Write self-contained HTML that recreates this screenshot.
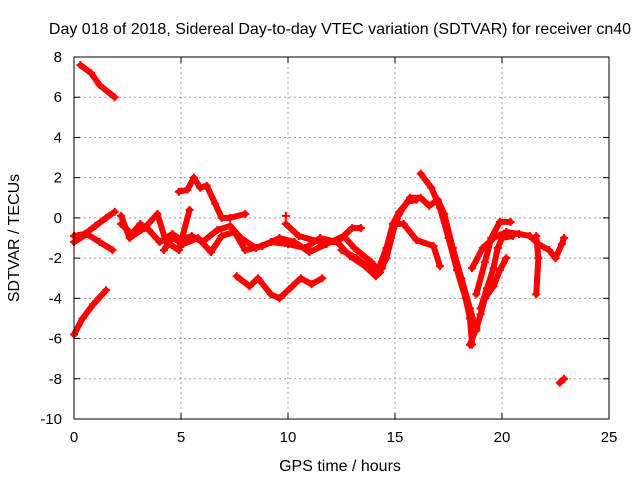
<!DOCTYPE html>
<html><head><meta charset="utf-8"><style>
body{margin:0;background:#fff}
svg text{font-family:"Liberation Sans",sans-serif;font-size:15px;fill:#000}
svg text.big{font-size:16px}
</style></head><body>
<svg id="chart" width="640" height="480">
<text class="big" x="340" y="34" text-anchor="middle">Day 018 of 2018, Sidereal Day-to-day VTEC variation (SDTVAR) for receiver cn40</text>
<text class="big" x="340" y="471" text-anchor="middle">GPS time / hours</text>
<text class="big" transform="translate(19,238) rotate(-90)" text-anchor="middle">SDTVAR / TECUs</text>
<g id="grid"></g><g id="marks"></g><g id="axes"></g>
</svg>
<script>
const xTicks=[0,5,10,15,20,25];
const yTicks=[8,6,4,2,0,-2,-4,-6,-8,-10];
const trackA=[[0.3,7.6],[0.8,7.2],[1.2,6.6],[1.9,6.0]];
const trackB=[[0,-5.8],[0.4,-5.0],[0.9,-4.3],[1.5,-3.6]];
const trackC=[[7.6,-2.9],[8.2,-3.4],[8.6,-3.0],[9.2,-3.8],[9.6,-4.0],[10.2,-3.4],[10.6,-3.0],[11.1,-3.3],[11.6,-3.0]];
const trackD=[[4.9,1.3],[5.3,1.4],[5.6,2.0],[5.9,1.5],[6.2,1.6],[6.6,0.7],[6.9,0],[7.3,0],[8.0,0.2]];
const trackE=[[0,-0.9],[0.5,-0.8],[1.0,-0.4],[1.5,0],[1.9,0.3]];
const trackF=[[0,-1.2],[0.6,-0.8],[1.2,-1.2],[1.8,-1.6]];
const trackG=[[2.2,-0.3],[2.7,-0.8],[3.1,-0.3],[3.5,-0.6],[4.0,-1.2],[4.6,-0.8],[5.0,-1.1],[5.5,-0.9],[6.0,-1.2],[6.7,-0.6],[7.3,-0.4],[7.8,-1.0],[8.5,-1.5],[9.2,-1.2],[10,-1.3],[10.8,-1.5],[11.5,-1.0],[12.3,-1.2],[13.0,-0.5],[13.4,-0.5]];
const trackH=[[2.2,0.1],[2.6,-1.0],[3.3,-0.5],[3.9,0.2],[4.3,-1.2],[4.9,-1.6],[5.4,0.4]];
const trackI=[[4.2,-1.6],[4.6,-1.0],[5.1,-1.3],[5.8,-1.0],[6.4,-1.7],[6.9,-0.9],[7.5,-0.7],[8.0,-1.6],[8.8,-1.4],[9.6,-1.0],[10.3,-1.2],[11.0,-1.7],[11.8,-1.3],[12.6,-0.9],[13.1,-1.5],[13.9,-2.2],[14.3,-2.7]];
const trackJ=[[9.9,-0.3],[10.5,-0.9],[11.5,-1.2],[12.3,-1.2],[12.9,-1.9],[13.6,-2.4],[14.1,-2.9],[14.6,-1.5],[14.9,-0.3],[15.2,0.3],[15.6,0.8],[16.0,0.9]];
const trackK=[[12.5,-1.6],[13.2,-2.0],[13.8,-2.5],[14.2,-2.8],[14.6,-2.0],[15.0,-0.3],[15.4,-0.3],[16.0,-1.1],[16.8,-1.4],[17.1,-2.4]];
const trackL=[[14.4,-2.5],[14.8,-1.0],[15.2,0.2],[15.7,1.0],[16.2,1.0],[16.6,0.6],[17.0,0.9],[17.3,0.2],[17.7,-1.5],[18.1,-3.0],[18.5,-4.5],[18.8,-5.6]];
const trackM=[[16.2,2.2],[16.7,1.5],[17.1,0.5],[17.5,-1.0],[17.9,-2.6],[18.3,-4.0],[18.5,-5.0],[18.6,-6.3]];
const trackN=[[18.5,-6.3],[18.8,-5.5],[19.0,-4.8],[19.2,-4.0],[19.6,-3.4],[19.9,-2.6],[20.2,-2.0]];
const trackO=[[18.8,-3.8],[19.2,-2.2],[19.5,-1.0],[19.9,-0.2],[20.4,-0.2]];
const trackP=[[18.6,-2.5],[19.1,-1.5],[19.6,-1.0],[20.2,-0.7],[20.8,-0.8],[21.3,-0.9],[21.7,-1.3],[22.2,-1.6],[22.5,-2.0],[22.8,-1.3],[22.9,-1.0]];
const trackQ=[[19.0,-4.5],[19.3,-3.5],[19.6,-2.5],[19.8,-1.5],[20.0,-1.0],[20.5,-0.9]];
const trackR=[[21.6,-0.9],[21.7,-2.0],[21.6,-3.8]];
const trackS=[[22.7,-8.2],[22.9,-8.0]];
const trackT=[[9.9,0.1]];
const tracks=[trackA,trackB,trackC,trackD,trackE,trackF,trackG,trackH,trackI,trackJ,trackK,trackL,trackM,trackN,trackO,trackP,trackQ,trackR,trackS,trackT];
const NS="http://www.w3.org/2000/svg";
const X0=74,X1=609,Y0=57,Y1=419;
function sx(v){return X0+(v-0)/25*(X1-X0);}
function sy(v){return Y0+(8-v)/18*(Y1-Y0);}
function mk(tag,attrs,parent){const e=document.createElementNS(NS,tag);for(const k in attrs)e.setAttribute(k,attrs[k]);parent.appendChild(e);return e;}
const grid=document.getElementById('grid'),axes=document.getElementById('axes'),marks=document.getElementById('marks');
xTicks.forEach(t=>{
  const x=sx(t);
  if(t>0&&t<25){const g=mk('line',{x1:x,x2:x,y1:Y0,y2:Y1,stroke:'#a0a0a0','stroke-dasharray':'2,3'},grid);
  
  }
  mk('line',{x1:x,x2:x,y1:Y1,y2:Y1-6,stroke:'#000'},axes);
  mk('line',{x1:x,x2:x,y1:Y0,y2:Y0+6,stroke:'#000'},axes);
  const l=mk('text',{x:x,y:Y1+23,'text-anchor':'middle'},axes);l.textContent=t;
  
  
});
yTicks.forEach(t=>{
  const y=sy(t);
  if(t>-10&&t<8){const g=mk('line',{x1:X0,x2:X1,y1:y,y2:y,stroke:'#a0a0a0','stroke-dasharray':'2,3'},grid);
  
  }
  mk('line',{x1:X0,x2:X0+6,y1:y,y2:y,stroke:'#000'},axes);
  mk('line',{x1:X1,x2:X1-6,y1:y,y2:y,stroke:'#000'},axes);
  const l=mk('text',{x:X0-12,y:y+5,'text-anchor':'end'},axes);l.textContent=t;
  
  
});
const frame=mk('rect',{x:X0,y:Y0,width:X1-X0,height:Y1-Y0,fill:'none',stroke:'#000','stroke-width':1},axes);


tracks.forEach(tr=>{
  if(tr.length>1){
    const p=mk('polyline',{points:tr.map(d=>sx(d[0])+','+sy(d[1])).join(' '),fill:'none',stroke:'#ff0000','stroke-width':6,'stroke-linejoin':'round','stroke-linecap':'round'},marks);
    
    
  }
  tr.forEach(d=>{
    const x=sx(d[0]),y=sy(d[1]);
    const m=mk('path',{d:`M${x-4},${y}H${x+4}M${x},${y-4}V${y+4}`,stroke:'#ff0000','stroke-width':2},marks);
    
    
  });
});
</script>
</body></html>
